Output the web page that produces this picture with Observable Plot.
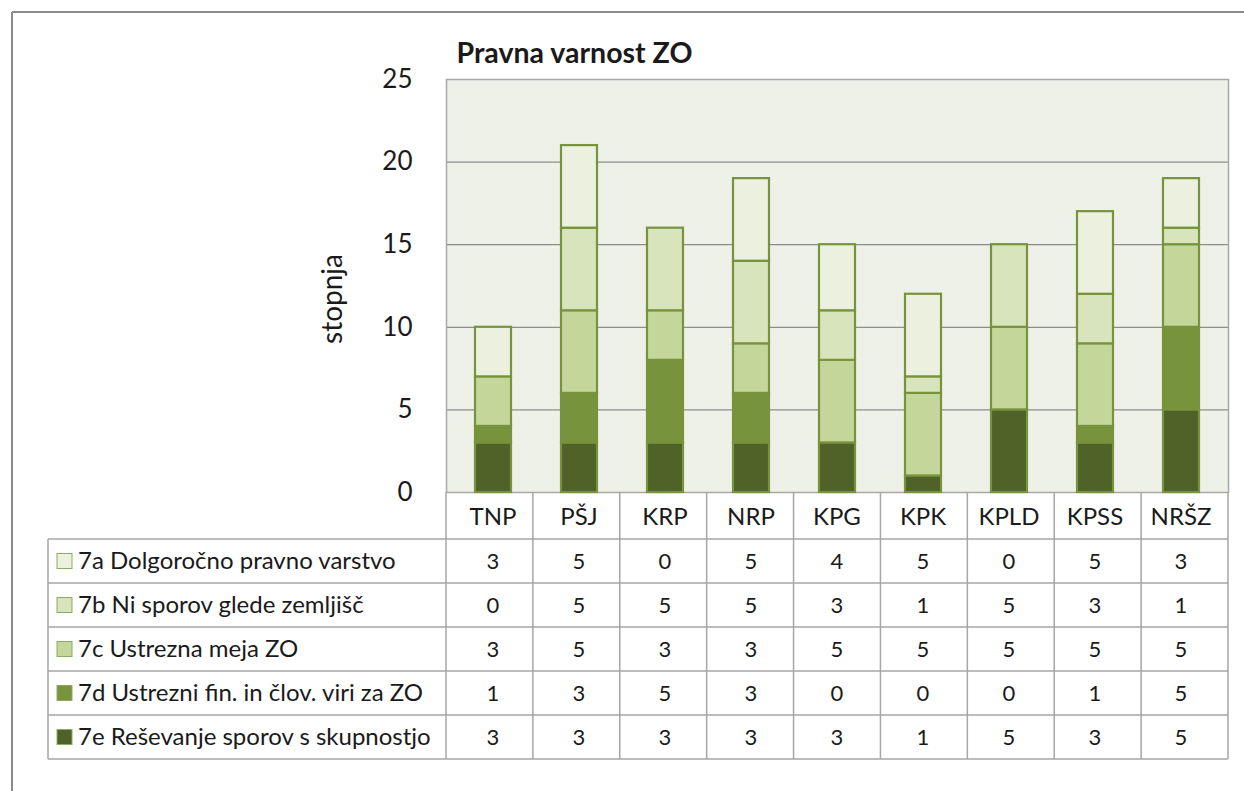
<!DOCTYPE html>
<html><head><meta charset="utf-8">
<script src="https://cdn.jsdelivr.net/npm/d3@7"></script>
<script src="https://cdn.jsdelivr.net/npm/@observablehq/plot@0.6"></script>
<style>body{margin:0;background:#fff;} svg{display:block}</style>
</head><body><div id="chart"></div>
<script>
const categories = ["TNP","PŠJ","KRP","NRP","KPG","KPK","KPLD","KPSS","NRŠZ"];
const seriesNames = [
  "7a Dolgoročno pravno varstvo",
  "7b Ni sporov glede zemljišč",
  "7c Ustrezna meja ZO",
  "7d Ustrezni fin. in člov. viri za ZO",
  "7e Reševanje sporov s skupnostjo"
];
const v7a = [3,5,0,5,4,5,0,5,3];
const v7b = [0,5,5,5,3,1,5,3,1];
const v7c = [3,5,3,3,5,5,5,5,5];
const v7d = [1,3,5,3,0,0,0,1,5];
const v7e = [3,3,3,3,3,1,5,3,5];
const yTicks = [0,5,10,15,20,25];
const title = "Pravna varnost ZO";
const yLabel = "stopnja";
const colors = ["#ebf0df","#d8e4bc","#c4d79b","#77933c","#4f6228"];

const values = [v7a, v7b, v7c, v7d, v7e];
const FONT = "Lato, 'Open Sans', sans-serif";
const TXT = "#1a1a1a";

// stacked bottom-to-top: 7e, 7d, 7c, 7b, 7a
const data = [];
for (const s of [4,3,2,1,0]) {
  categories.forEach((c, i) => data.push({category: c, series: seriesNames[s], value: values[s][i]}));
}

const plot = Plot.plot({
  width: 1244, height: 791,
  marginLeft: 446, marginRight: 16, marginTop: 79, marginBottom: 299,
  style: {fontFamily: FONT, background: "#fff", overflow: "visible", color: TXT},
  x: {domain: categories, paddingInner: 0.58, paddingOuter: 0.29, axis: null},
  y: {domain: [0, 25], axis: null},
  color: {domain: seriesNames, range: colors},
  marks: [
    Plot.frame({fill: "#eef1e8", stroke: "none"}),
    Plot.ruleY(yTicks.filter(t => t > 0 && t < 25), {stroke: "#8c8c8c", strokeWidth: 1.2}),
    Plot.frame({stroke: "#a8a8a8", strokeWidth: 1.5}),
    Plot.barY(data, Plot.stackY({x: "category", y: "value", fill: "series", stroke: "#77933c", strokeWidth: 2.2})),
    Plot.axisY({ticks: yTicks, tickSize: 0, tickPadding: 34, fontSize: 26, fill: TXT, label: null}),
    Plot.text([yLabel], {frameAnchor: "left", dx: -113, dy: 13, rotate: -90, textAnchor: "middle", fontSize: 28, fill: TXT}),
    Plot.text([title], {frameAnchor: "top-left", dx: 10, dy: -26, lineAnchor: "middle", fontWeight: "bold", fontSize: 28.5, textAnchor: "start", fill: TXT})
  ]
});

const svg = d3.select(plot);
const xs = plot.scale("x");
const [r0, r1] = xs.range;
const n = categories.length;
const colW = (r1 - r0) / n;
const center = (c, i) => (xs.bandwidth != null ? xs.apply(c) + xs.bandwidth / 2 : r0 + (i + 0.5) * colW);
const ys = plot.scale("y");
const yBase = ys.apply(0);
const headerH = 47;
const tableTop = yBase + headerH;
const rowH = 44;
const legendLeft = 48;
const rows = d3.scaleBand().domain(seriesNames).range([tableTop, tableTop + rowH * seriesNames.length]);
const tableBottom = tableTop + rowH * seriesNames.length;

const g = svg.append("g").attr("font-family", FONT).attr("fill", TXT);
const lineColor = "#a6a6a6";
// outer frame
g.append("line").attr("x1", 12).attr("x2", 1244).attr("y1", 12).attr("y2", 12).attr("stroke", "#8a8a8a").attr("stroke-width", 2);
g.append("line").attr("x1", 12).attr("x2", 12).attr("y1", 12).attr("y2", 791).attr("stroke", "#8a8a8a").attr("stroke-width", 2);

// horizontal lines
for (let k = 0; k <= seriesNames.length; k++) {
  const y = tableTop + k * rowH;
  g.append("line").attr("x1", legendLeft).attr("x2", r1).attr("y1", y).attr("y2", y).attr("stroke", lineColor).attr("stroke-width", 1.5);
}
// vertical lines
g.append("line").attr("x1", legendLeft).attr("x2", legendLeft).attr("y1", tableTop).attr("y2", tableBottom).attr("stroke", lineColor).attr("stroke-width", 1.5);
for (let k = 0; k <= n; k++) {
  const x = r0 + k * colW;
  g.append("line").attr("x1", x).attr("x2", x).attr("y1", yBase).attr("y2", tableBottom).attr("stroke", lineColor).attr("stroke-width", 1.5);
}
// header labels
categories.forEach((c, i) => {
  g.append("text").attr("x", center(c, i)).attr("y", yBase + headerH / 2 + 1).attr("dy", "0.35em")
    .attr("text-anchor", "middle").attr("font-size", 24).text(c);
});
// rows
seriesNames.forEach((s, si) => {
  const yc = rows(s) + rows.bandwidth() / 2;
  g.append("rect").attr("x", legendLeft + 9).attr("y", yc - 7.5).attr("width", 15).attr("height", 15)
    .attr("fill", colors[si]).attr("stroke", "#8fab5e").attr("stroke-width", 1);
  g.append("text").attr("x", legendLeft + 30).attr("y", yc).attr("dy", "0.35em")
    .attr("text-anchor", "start").attr("font-size", 24).text(s);
  categories.forEach((c, i) => {
    g.append("text").attr("x", center(c, i)).attr("y", yc).attr("dy", "0.35em")
      .attr("text-anchor", "middle").attr("font-size", 22).text(values[si][i]);
  });
});

document.getElementById("chart").append(plot);
</script>
</body></html>
